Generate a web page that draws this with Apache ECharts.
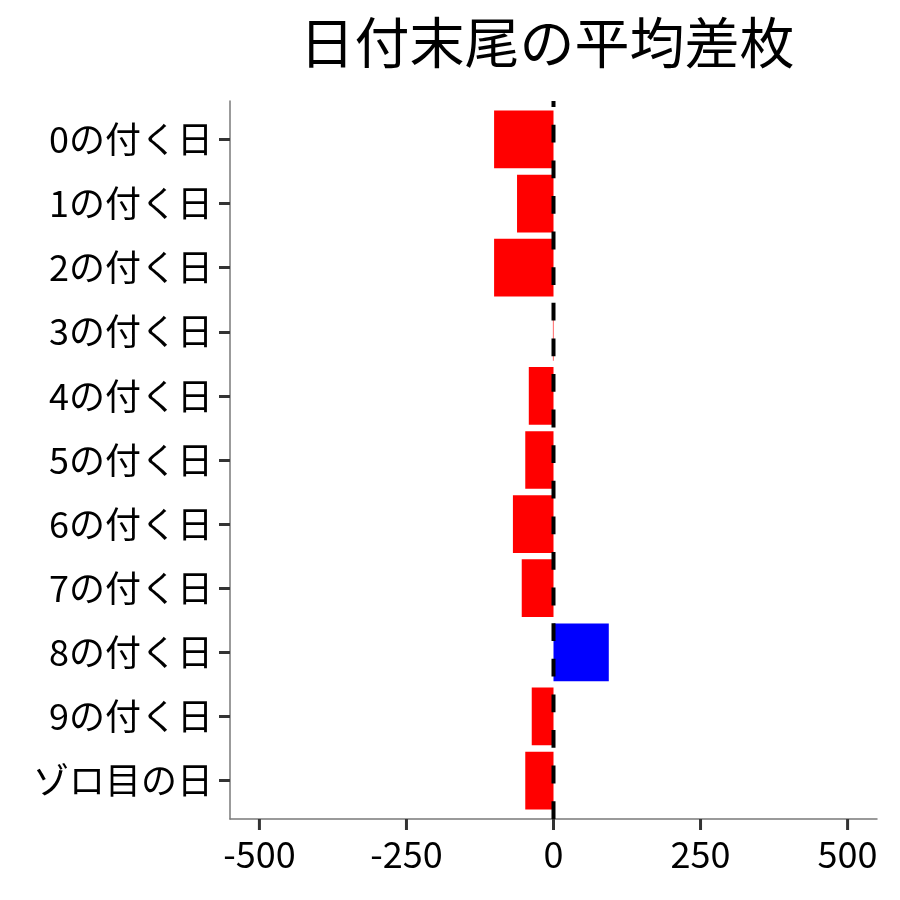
<!DOCTYPE html>
<html>
<head>
<meta charset="utf-8">
<script src="https://cdn.jsdelivr.net/npm/echarts@6/dist/echarts.min.js"></script>
<style>
html,body{margin:0;padding:0;background:#fff;}
#chart{width:900px;height:900px;}
</style>
</head>
<body>
<div id="chart"></div>
<script>
const titleText = '日付末尾の平均差枚';
const categories = ['0の付く日','1の付く日','2の付く日','3の付く日','4の付く日','5の付く日','6の付く日','7の付く日','8の付く日','9の付く日','ゾロ目の日'];
const values = [-101, -62, -101, -1, -42, -48, -69, -54, 94, -37, -48];
const xTicks = [-500, -250, 0, 250, 500];
const xTickLabels = ['-500', '-250', '0', '250', '500'];
const xMin = -550;
const xMax = 550;
const refLine = 0;

const FONT = '"Noto Sans CJK JP", "Noto Sans", sans-serif';
const AXIS_GRAY = '#7a7a7a';
const TICK_COL = '#333333';
const TICK_LEN = 11;

// plot frame (pixels)
const L = 230, R = 23, T = 101, B = 81;
const plotW = 900 - L - R;
const pxPerUnit = plotW / (xMax - xMin);
const xTickMin = xTicks[0];
const xTickMax = xTicks[xTicks.length - 1];
// ggplot-style discrete expansion: 0.6 band on each side
const n = categories.length;
const plotH = 900 - T - B;
const band = plotH / (n - 1 + 1.2);
const inset = 0.1 * band;

const chart = echarts.init(document.getElementById('chart'), null, {renderer: 'canvas'});
chart.setOption({
  backgroundColor: '#ffffff',
  animation: false,
  title: {
    text: titleText,
    left: 542,
    top: 10,
    textAlign: 'center',
    textStyle: {fontFamily: FONT, fontSize: 55, fontWeight: 'normal', color: '#000'}
  },
  grid: [
    // 0: bars
    {left: L, right: R, top: T + inset, bottom: B + inset},
    // 1: frame + reference line
    {left: L, right: R, top: T, bottom: B},
    // 2: x tick labels (spans the -500..500 tick range)
    {left: L + (xTickMin - xMin) * pxPerUnit, right: R + (xMax - xTickMax) * pxPerUnit, top: T, bottom: B},
    // 3: strip just below the x axis that holds the x tick marks
    {left: L, right: R, top: 900 - B, bottom: B - TICK_LEN}
  ],
  xAxis: [
    {gridIndex: 0, type: 'value', min: xMin, max: xMax,
      splitLine: {show: false}, axisLine: {show: false}, axisTick: {show: false}, axisLabel: {show: false}},
    {gridIndex: 1, type: 'value', min: xMin, max: xMax,
      splitLine: {show: false}, axisLine: {show: true, onZero: false, lineStyle: {color: AXIS_GRAY, width: 1.5}},
      axisTick: {show: false}, axisLabel: {show: false}},
    {gridIndex: 2, type: 'category', data: xTickLabels, boundaryGap: false,
      splitLine: {show: false}, axisLine: {show: false, onZero: false},
      axisTick: {show: false},
      axisLabel: {interval: 0, margin: 17, fontFamily: FONT, fontSize: 36, color: '#000'}},
    {gridIndex: 3, type: 'value', min: xMin, max: xMax, show: false}
  ],
  yAxis: [
    {gridIndex: 0, type: 'category', data: categories, inverse: true,
      axisLine: {show: false, onZero: false},
      axisTick: {show: true, alignWithLabel: true, length: TICK_LEN, lineStyle: {color: TICK_COL, width: 3}},
      axisLabel: {margin: 17, fontFamily: FONT, fontSize: 36, color: '#000'}},
    {gridIndex: 1, type: 'value', min: 0, max: 1,
      splitLine: {show: false}, axisLine: {show: true, onZero: false, lineStyle: {color: AXIS_GRAY, width: 1.5}},
      axisTick: {show: false}, axisLabel: {show: false}},
    {gridIndex: 2, type: 'value', min: 0, max: 1, show: false},
    {gridIndex: 3, type: 'value', min: 0, max: 1, show: false}
  ],
  series: [
    {
      type: 'bar',
      xAxisIndex: 0, yAxisIndex: 0,
      data: values.map(v => ({value: v, itemStyle: {color: v >= 0 ? '#0000ff' : '#ff0000'}})),
      barCategoryGap: '10%',
      z: 2
    },
    {
      type: 'line',
      xAxisIndex: 1, yAxisIndex: 1,
      data: [[refLine, 0], [refLine, 1]],
      showSymbol: false,
      symbol: 'none',
      silent: true,
      z: 10,
      lineStyle: {color: '#000', width: 4, type: [17.8, 17.8]}
    },
    {
      // x-axis tick marks: vertical segments at each tick value inside the tick strip
      type: 'line',
      xAxisIndex: 3, yAxisIndex: 3,
      data: xTicks.flatMap(v => [[v, 1], [v, 0], null]),
      connectNulls: false,
      showSymbol: false,
      symbol: 'none',
      silent: true,
      z: 11,
      lineStyle: {color: TICK_COL, width: 3, type: 'solid'}
    }
  ]
});
</script>
</body>
</html>
